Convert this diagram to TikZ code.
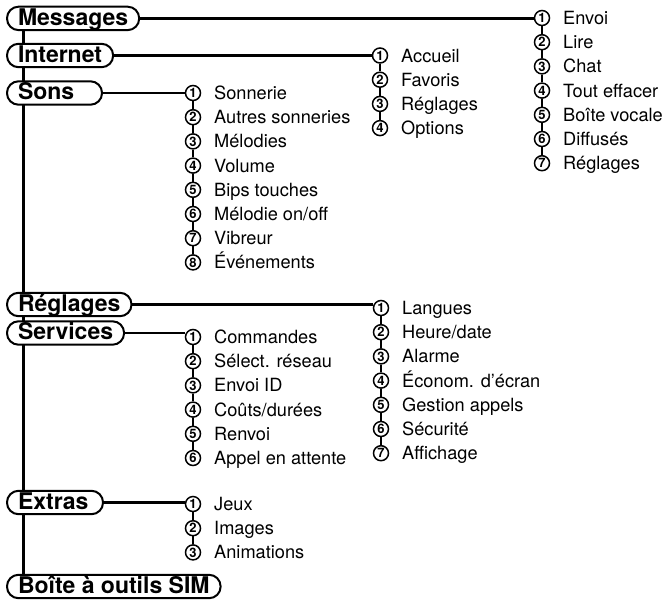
\documentclass[tikz,border=0pt]{standalone}
\usepackage{fontspec}
\setmainfont{TeX Gyre Heros}
\usetikzlibrary{backgrounds}
\tikzset{
 cat/.style={draw, fill=white, line width=2pt, rounded corners=11.5pt, inner xsep=11pt, inner ysep=2.2pt, text height=16.4pt, text depth=2.6pt, font=\fontsize{23}{26}\selectfont\bfseries, anchor=west},
 num/.style={circle, draw, fill=white, line width=1.5pt, minimum size=15pt, inner sep=0pt, font=\fontsize{13}{13}\selectfont\bfseries},
 item/.style={anchor=west, inner sep=0pt, text height=13pt, text depth=0pt, font=\fontsize{18.2}{20}\selectfont},
 conn/.style={line width=2.6pt},
 link/.style={line width=2.2pt},
 spine/.style={line width=3pt},
}
\newcommand\menulistx[5]{%
 \foreach \t [count=\i] in {#5} {
   \node[num] (#1\i) at (#2, {#3+(\i-1)*24.2}) {\i};
   \node[item] (#1t\i) at ([xshift=21pt]#1\i.center) {\t};
 }
 \foreach \i [remember=\i as \j (initially 1)] in {2,...,#4} { \draw[link] (#1\j.south) -- (#1\i.north); }
}
\begin{document}
\begin{tikzpicture}[x=1pt,y=-1pt]
\useasboundingbox (0,0) rectangle (668,600);
% categories
\node[cat] (msg) at (6,18.4) {Messages};
\node[cat] (int) at (6,55.5) {Internet};
\node[cat] (son) at (6,93) {\makebox[73pt][l]{Sons}};
\node[cat] (reg) at (6,304.5) {Réglages};
\node[cat] (ser) at (6,333) {Services};
\node[cat] (ext) at (6,502.5) {\makebox[74pt][l]{Extras}};
\node[cat] (sim) at (6,586.5) {Boîte à outils SIM};
% lists
\menulistx{m}{542}{18}{7}{Envoi,Lire,Chat,Tout effacer,Boîte vocale,Diffusés,Réglages}
\menulistx{i}{380}{55.5}{4}{Accueil,Favoris,Réglages,Options}
\menulistx{s}{193}{93}{8}{Sonnerie,Autres sonneries,Mélodies,Volume,Bips touches,Mélodie on/off,Vibreur,Événements}
\menulistx{r}{381}{308}{7}{Langues,Heure/date,Alarme,Économ. d'écran,Gestion appels,Sécurité,Affichage}
\menulistx{v}{193}{337}{6}{Commandes,Sélect. réseau,Envoi ID,Coûts/durées,Renvoi,Appel en attente}
\menulistx{e}{193}{504}{3}{Jeux,Images,Animations}
% spine
\begin{pgfonlayer}{background}
\draw[spine] ([xshift=17pt]msg.south west) -- ([xshift=17pt]sim.north west);
\end{pgfonlayer}
% connectors
\draw[conn] (msg.east) -- (msg.east -| m1.west);
\draw[conn] (int.east) -- (int.east -| i1.west);
\draw[conn] (son.east) -- (son.east -| s1.west);
\draw[conn] (reg.east) -- (reg.east -| r1.west);
\draw[conn] (ser.east) -- (ser.east -| v1.west);
\draw[conn] (ext.east) -- (ext.east -| e1.west);
\end{tikzpicture}
\end{document}
